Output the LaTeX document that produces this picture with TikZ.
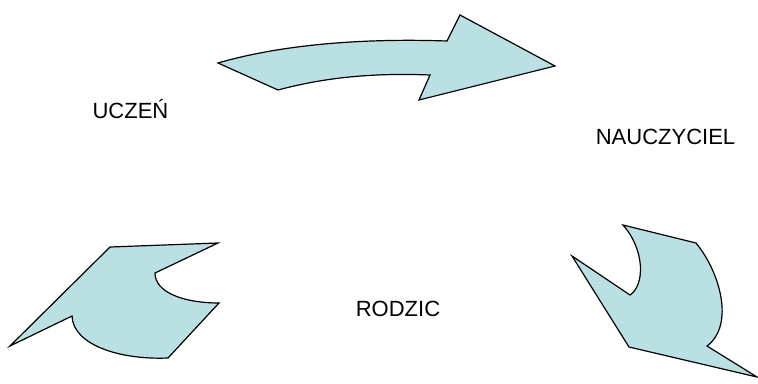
\documentclass[tikz,border=0pt]{standalone}
\usepackage{fontspec}
\setmainfont{Liberation Sans}
\usepackage{tikz}

\definecolor{arrowfill}{RGB}{187,224,227}

\begin{document}
\begin{tikzpicture}[x=0.75pt,y=-0.75pt]
			\tikzset{bigarrow/.style = {draw=black,fill=arrowfill,line width=0.9pt,line join=miter}}
			\tikzset{role/.style = {anchor=base,inner sep=0pt,font=\fontsize{16.5pt}{18pt}\selectfont}}
			\useasboundingbox (0,0) rectangle (758,383);
			% roles
			\node[role] (uczen) at (130.5,118) {UCZEŃ};
			\node[role] (nauczyciel) at (665.5,144.5) {NAUCZYCIEL};
			\node[role] (rodzic) at (398,316) {RODZIC};
			% arrows
			\draw[bigarrow] (218,63) -- (278,90) .. controls (330,76) and (380,73) .. (430,75)
				-- (419,100) -- (555,66) -- (460,15) -- (447,41)
				.. controls (360,38) and (280,45) .. cycle;
			\draw[bigarrow] (623,225) -- (696,243) .. controls (720,272) and (735,325) .. (707,346)
				-- (757,377) -- (629,347) -- (572,256) -- (630,295)
				.. controls (645,285) and (645,250) .. cycle;
			\draw[bigarrow] (10,346) -- (110,247) -- (218,243) -- (155,273)
				.. controls (155,293) and (185,303) .. (219,303) -- (168,358)
				.. controls (120,360) and (73,345) .. (72,316) -- cycle;
		\end{tikzpicture}
\end{document}
